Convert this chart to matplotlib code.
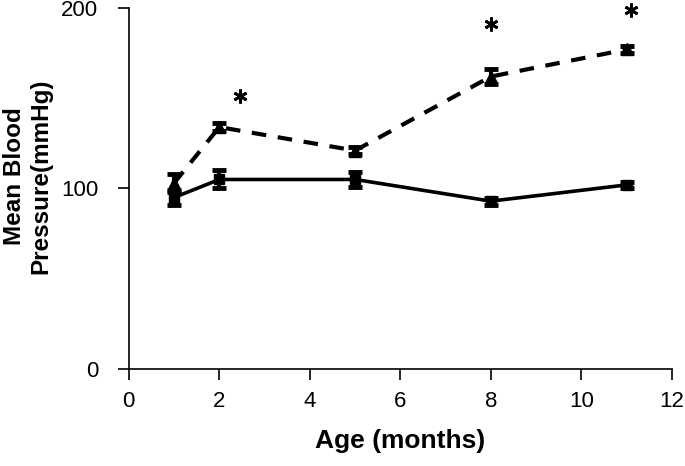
import matplotlib
matplotlib.use("Agg")
import matplotlib.pyplot as plt

plt.rcParams['font.family'] = ['Liberation Sans', 'DejaVu Sans']

months = [1, 2, 5, 8, 11]
control = [95, 105, 105, 93, 102]
control_err = [4, 5, 4, 2, 1.5]
treated = [103, 134, 121, 162, 177]
treated_err = [5, 2, 2, 4, 2]
star_x = [2.45, 8, 11.1]
star_y = [151, 191, 199]

fig = plt.figure(figsize=(6.85, 4.66), dpi=100)
ax = fig.add_axes([0.188, 0.208, 0.793, 0.775])

ax.errorbar(months, control, yerr=control_err, color='black', lw=2.6,
            marker='s', ms=7, capsize=5, capthick=3.5, elinewidth=3)
ax.errorbar(months, treated, yerr=treated_err, color='black', lw=3,
            ls=(0, (3.5, 2.8)), marker='^', ms=8, capsize=5, capthick=3.5,
            elinewidth=3)
ax.plot(star_x, star_y, ls='none', marker=(6, 2, 0), ms=10, mew=2.0,
        color='black', clip_on=False)

ax.set_xlim(0, 12)
ax.set_ylim(0, 200)
ax.set_xticks([0, 2, 4, 6, 8, 10, 12])
ax.set_yticks([0, 100, 200])
ax.spines['top'].set_visible(False)
ax.spines['right'].set_visible(False)
ax.spines['left'].set_linewidth(1.2)
ax.spines['bottom'].set_linewidth(1.2)
ax.tick_params(axis='both', direction='out', length=8, width=1.2, labelsize=16)
ax.tick_params(axis='x', pad=8)
ax.tick_params(axis='y', pad=14)
ax.set_xlabel('Age (months)', fontsize=19, fontweight='bold', labelpad=12)
ax.set_ylabel('Mean Blood\nPressure(mmHg)', fontsize=17.5, fontweight='bold',
              labelpad=6, y=0.535)
fig.savefig('out.png', dpi=100)
